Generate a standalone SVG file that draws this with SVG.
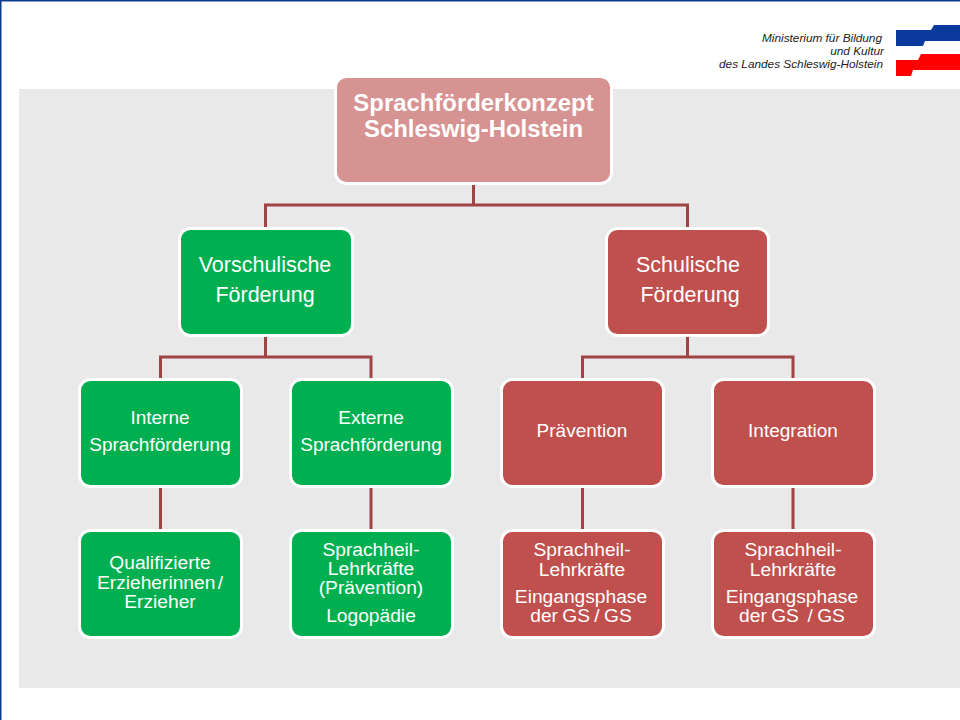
<svg xmlns="http://www.w3.org/2000/svg" width="960" height="720" viewBox="0 0 960 720">
<style>
text{font-family:"Liberation Sans",Arial,sans-serif;fill:#fff;text-anchor:middle}
.n{stroke:#fff;stroke-width:3}
.g{fill:#00b050}
.r{fill:#c0504d}
.t1{font-size:23.9px;font-weight:bold}
.t2{font-size:21.5px}
.t3{font-size:19px}
.t4{font-size:19.2px}
.m{font-size:11.8px;font-style:italic;fill:#222;text-anchor:end}
.c{fill:none;stroke:#a04345;stroke-width:3}
</style>
<rect width="960" height="720" fill="#fff"/>
<rect x="19" y="89" width="941" height="599" fill="#e9e9e9"/>
<path d="M0 0H960V1.500H1.500V720H0Z" fill="#0a3d91"/>
<g id="logo">
<path d="M896 30H931L934 25H960V41H925L923 46H896Z" fill="#0a3a9e"/>
<path d="M896 60H918L921 54H960V70H913L911 76H896Z" fill="#fe0000"/>
<text class="m" x="882" y="42">Ministerium für Bildung</text>
<text class="m" x="884" y="55">und Kultur</text>
<text class="m" x="883" y="68">des Landes Schleswig-Holstein</text>
</g>
<g id="connectors" class="c">
<path d="M473.500 183V205M265.500 228V205H687.500V228"/>
<path d="M265.500 335V357M160.500 379V357H371V379"/>
<path d="M687.500 335V357M582.500 379V357H793V379"/>
<path d="M160.500 486V529M371 486V529M582.500 486V529M793 486V529"/>
</g>
<g id="root"><rect class="n" x="335.500" y="76.500" width="276" height="107" rx="11" fill="#d79292"/><text class="t1" x="473.500" y="111">Sprachförderkonzept</text><text class="t1" x="473.500" y="137">Schleswig-Holstein</text></g>
<g id="vorschulisch"><rect class="n g" x="179.500" y="228.500" width="173" height="107" rx="11"/><text class="t2" x="265" y="272">Vorschulische</text><text class="t2" x="265" y="302">Förderung</text></g>
<g id="schulisch"><rect class="n r" x="606.500" y="228.500" width="162" height="107" rx="11"/><text class="t2" x="688" y="272">Schulische</text><text class="t2" x="690" y="302">Förderung</text></g>
<g id="intern"><rect class="n g" x="79.500" y="379.500" width="162" height="107" rx="11"/><text class="t3" x="160" y="424">Interne</text><text class="t3" x="160" y="451">Sprachförderung</text></g>
<g id="extern"><rect class="n g" x="290.500" y="379.500" width="162" height="107" rx="11"/><text class="t3" x="371" y="424">Externe</text><text class="t3" x="371" y="451">Sprachförderung</text></g>
<g id="praevention"><rect class="n r" x="501.500" y="379.500" width="162" height="107" rx="11"/><text class="t3" x="582" y="437">Prävention</text></g>
<g id="integration"><rect class="n r" x="712.500" y="379.500" width="162" height="107" rx="11"/><text class="t3" x="793" y="437">Integration</text></g>
<g id="qualifiziert"><rect class="n g" x="79.500" y="530.500" width="162" height="107" rx="11"/><text class="t4" x="160" y="569">Qualifizierte</text><text class="t4" x="160" y="589" word-spacing="-3">Erzieherinnen /</text><text class="t4" x="160" y="608">Erzieher</text></g>
<g id="sprachheil1"><rect class="n g" x="290.500" y="530.500" width="162" height="107" rx="11"/><text class="t4" x="371" y="556">Sprachheil-</text><text class="t4" x="371" y="575">Lehrkräfte</text><text class="t4" x="371" y="594">(Prävention)</text><text class="t4" x="371" y="622">Logopädie</text></g>
<g id="sprachheil2"><rect class="n r" x="501.500" y="530.500" width="162" height="107" rx="11"/><text class="t4" x="582" y="556">Sprachheil-</text><text class="t4" x="582" y="576">Lehrkräfte</text><text class="t4" x="581" y="603">Eingangsphase</text><text class="t4" x="581" y="622" word-spacing="-1">der GS / GS</text></g>
<g id="sprachheil3"><rect class="n r" x="712.500" y="530.500" width="162" height="107" rx="11"/><text class="t4" x="793" y="556">Sprachheil-</text><text class="t4" x="793" y="576">Lehrkräfte</text><text class="t4" x="792" y="603">Eingangsphase</text><text class="t4" x="792" y="622" xml:space="preserve" word-spacing="-1">der GS  / GS</text></g>
</svg>
